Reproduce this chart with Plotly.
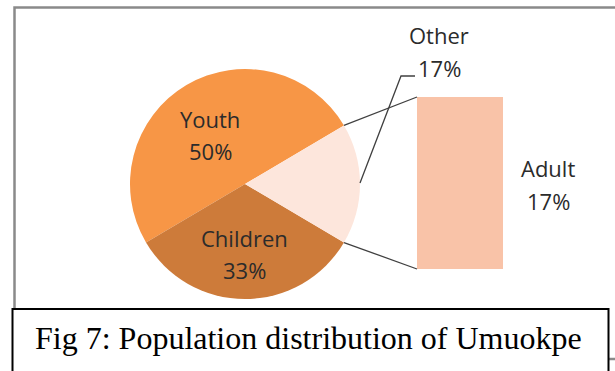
import math
import plotly.graph_objects as go

W, H = 615, 371

# ---- data ----
pie_labels = ["Youth", "Children", "Other"]
pie_values = [50, 33, 17]
pie_colors = ["#F79646", "#CD7B3A", "#FDE6DC"]
bar_labels = ["Adult"]
bar_values = [17]
bar_colors = ["#F9C3A8"]
caption = "Fig 7: Population distribution of Umuokpe"

# ---- geometry (pixels) ----
cx, cy, R = 245, 184, 115
bar_x0, bar_x1, bar_y0, bar_y1 = 417, 503, 97, 269


def px(x):
    return x / W


def py(y):
    return 1 - y / H


total = sum(pie_values)
other_share = pie_values[pie_labels.index("Other")] / total
half = other_share * 360 / 2  # Other slice centred on 3 o'clock

fig = go.Figure()
fig.add_trace(go.Pie(
    labels=pie_labels, values=pie_values, sort=False,
    direction="counterclockwise", rotation=-90 - half,
    marker=dict(colors=pie_colors, line=dict(width=0)),
    textinfo="none", hoverinfo="label+percent", showlegend=False,
    domain=dict(x=[px(cx - R), px(cx + R)], y=[py(cy + R), py(cy - R)]),
))
fig.add_trace(go.Bar(
    x=bar_labels, y=bar_values, marker=dict(color=bar_colors, line=dict(width=0)),
    width=1, showlegend=False, hoverinfo="x+y",
))

fig.update_layout(
    width=W, height=H, margin=dict(l=0, r=0, t=0, b=0),
    paper_bgcolor="white", plot_bgcolor="rgba(0,0,0,0)",
    xaxis=dict(domain=[px(bar_x0), px(bar_x1)], range=[-0.5, 0.5], visible=False),
    yaxis=dict(domain=[py(bar_y1), py(bar_y0)], range=[0, bar_values[0]], visible=False),
    bargap=0,
)

shapes = []
# chart border (gray)
shapes.append(dict(type="rect", xref="paper", yref="paper", layer="below",
                   x0=px(14.5), x1=px(640), y0=py(359), y1=py(7.5),
                   line=dict(color="#8A8A8A", width=2.5), fillcolor="rgba(0,0,0,0)"))
# connector lines from pie "Other" slice edges to bar corners
ax = math.radians(half)
ux, uy = cx + R * math.cos(ax), cy - R * math.sin(ax)
lx, ly = cx + R * math.cos(ax), cy + R * math.sin(ax)
for (x0, y0, x1, y1) in [(ux, uy, bar_x0, bar_y0), (lx, ly, bar_x0, bar_y1)]:
    shapes.append(dict(type="line", xref="paper", yref="paper",
                       x0=px(x0), y0=py(y0), x1=px(x1), y1=py(y1),
                       line=dict(color="#404040", width=1.3)))
# leader line for "Other" label
path = f"M {px(360)} {py(183)} L {px(401)} {py(76)} L {px(415)} {py(76)}"
shapes.append(dict(type="path", xref="paper", yref="paper", path=path,
                   line=dict(color="#404040", width=1.3)))
# caption box
shapes.append(dict(type="rect", xref="paper", yref="paper", layer="above",
                   x0=px(12.5), x1=px(608.5), y0=py(400), y1=py(309),
                   line=dict(color="black", width=2), fillcolor="white"))
fig.update_layout(shapes=shapes)

lab_font = dict(family="Open Sans", size=22, color="#2B2B2B")
pct = {l: f"{round(v / total * 100)}%" for l, v in zip(pie_labels, pie_values)}
pct["Adult"] = f"{round(bar_values[0] / total * 100)}%"
label_pos = {"Youth": (210, 118.5, 151), "Children": (244, 237.5, 269.5),
             "Other": (439, 35, 67.5), "Adult": (548, 168, 200.5)}
ann = []
for name, (x, y1, y2) in label_pos.items():
    ann.append(dict(x=px(x), y=py(y1), xref="paper", yref="paper", text=name,
                    showarrow=False, font=lab_font, xanchor="center", yanchor="middle"))
    ann.append(dict(x=px(x), y=py(y2), xref="paper", yref="paper", text=pct[name],
                    showarrow=False, font=lab_font, xanchor="center", yanchor="middle"))
ann.append(dict(x=px(33), y=py(338), xref="paper", yref="paper", text=caption,
                showarrow=False, xanchor="left", yanchor="middle",
                font=dict(family="Liberation Serif", size=32, color="black")))
fig.update_layout(annotations=ann)

fig.write_html("out.html")
